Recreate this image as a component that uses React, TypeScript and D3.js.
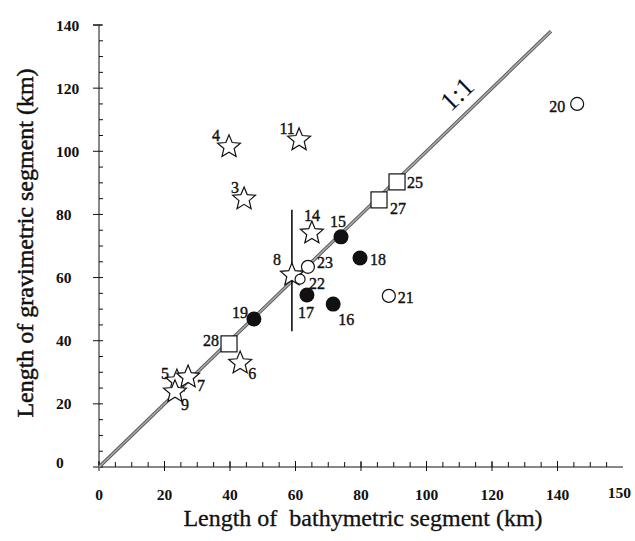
import React from "react";
import * as d3 from "d3";

const ids = [3, 4, 5, 6, 7, 8, 9, 11, 14, 15, 16, 17, 18, 19, 20, 21, 22, 23, 25, 27, 28];
const bathymetric = [44.3, 39.7, 23.8, 43.1, 27.2, 58.9, 23.2, 61.1, 65.0, 73.9, 71.5, 63.5, 79.7, 47.3, 146.0, 88.5, 61.4, 63.8, 91.0, 85.5, 39.7];
const gravimetric = [84.9, 101.4, 27.2, 32.9, 28.5, 60.8, 23.8, 103.6, 74.1, 72.9, 51.6, 54.5, 66.2, 46.9, 115.0, 54.2, 59.5, 63.4, 90.3, 84.6, 39.0];
const kinds = ["star", "star", "star", "star", "star", "star", "star", "star", "star", "filled", "filled", "filled", "filled", "filled", "open", "open", "openSmall", "open", "square", "square", "square"];

const xTicks = [0, 20, 40, 60, 80, 100, 120, 140];
const xEndLabel = "150";
const yTicks = [0, 20, 40, 60, 80, 100, 120, 140];
const errorBarX = 58.9;
const errorBarY = [43, 81.5];
const oneToOne = [0, 138];

// label offsets (px) relative to marker centre, by id
const labelOffsets: Record<number, [number, number]> = {
  3: [-9, -11], 4: [-13, -11], 5: [-12, -8], 6: [12, 10], 7: [13, 8], 8: [-15, -16], 9: [10, 13],
  11: [-12, -11], 14: [0, -18], 15: [-3, -15], 16: [13, 15], 17: [-1, 18], 18: [18, 2], 19: [-14, -6],
  20: [-20, 3], 21: [17, 2], 22: [17, 4], 23: [17, -4], 25: [18, 1], 27: [19, 9], 28: [-18, -3],
};

function starPath(R: number, r: number) {
  const pts: string[] = [];
  for (let i = 0; i < 10; i++) {
    const a = -Math.PI / 2 + (i * Math.PI) / 5;
    const rad = i % 2 === 0 ? R : r;
    pts.push(`${(rad * Math.cos(a)).toFixed(2)},${(rad * Math.sin(a)).toFixed(2)}`);
  }
  return "M" + pts.join("L") + "Z";
}

export default function App() {
  const W = 635, H = 541;
  const x = d3.scaleLinear().domain([0, 160]).range([99, 623]);
  const y = d3.scaleLinear().domain([0, 140]).range([467, 25]);
  const font = "'Liberation Serif', 'Times New Roman', serif";
  const star = starPath(12, 5.4);

  const yMinor = d3.range(0, 141, 5);
  const xMinor = d3.range(0, 156, 5);

  return (
    <svg width={W} height={H} style={{ position: "absolute", left: 0, top: 0, background: "#fff" }}>
      <rect width={W} height={H} fill="#fff" />
      {/* axes */}
      <line x1={x(0)} x2={x(0)} y1={y(0)} y2={y(140)} stroke="#111" strokeWidth={1} />
      <line x1={x(0) - 6} x2={x(0) + 3} y1={y(140)} y2={y(140)} stroke="#111" strokeWidth={1} />
      <line x1={x(0)} x2={x(160)} y1={y(0)} y2={y(0)} stroke="#111" strokeWidth={1} />
      {yMinor.map((v) => (
        <line key={"ym" + v} x1={x(0)} x2={x(0) + 4} y1={y(v)} y2={y(v)} stroke="#111" strokeWidth={1} />
      ))}
      {yTicks.map((v) => (
        <g key={"yt" + v}>
          <line x1={x(0) - 6} x2={x(0)} y1={y(v)} y2={y(v)} stroke="#111" strokeWidth={1} />
          <text x={56} y={y(v) - (v === 0 ? 5 : 0)} dominantBaseline="central" fontFamily={font} fontWeight="bold" fontSize={15.5} fill="#111">
            {v}
          </text>
        </g>
      ))}
      {xMinor.map((v) => (
        <line key={"xm" + v} x1={x(v)} x2={x(v)} y1={y(0)} y2={y(0) - 5} stroke="#111" strokeWidth={1} />
      ))}
      {xTicks.map((v) => (
        <g key={"xt" + v}>
          <line x1={x(v)} x2={x(v)} y1={y(0) - 6} y2={y(0) + 4} stroke="#111" strokeWidth={1} />
          <text x={x(v)} y={494} textAnchor="middle" dominantBaseline="central" fontFamily={font} fontWeight="bold" fontSize={15.5} fill="#111">
            {v}
          </text>
        </g>
      ))}
      <text x={631} y={492} textAnchor="end" dominantBaseline="central" fontFamily={font} fontWeight="bold" fontSize={15.5} fill="#111">
        {xEndLabel}
      </text>

      {/* axis titles */}
      <text x={363} y={526} textAnchor="middle" fontFamily={font} fontSize={24} fill="#111" stroke="#111" strokeWidth={0.3}>
        Length of {"\u00a0"}bathymetric segment (km)
      </text>
      <text transform="translate(25,243) rotate(-90)" textAnchor="middle" dominantBaseline="central" fontFamily={font} fontSize={24} fill="#111" stroke="#111" strokeWidth={0.5}>
        Length of gravimetric segment (km)
      </text>

      {/* 1:1 line */}
      <line x1={x(oneToOne[0])} y1={y(oneToOne[0])} x2={x(oneToOne[1])} y2={y(oneToOne[1])} stroke="#555" strokeWidth={3.4} />
      <line x1={x(oneToOne[0])} y1={y(oneToOne[0])} x2={x(oneToOne[1])} y2={y(oneToOne[1])} stroke="#aaa" strokeWidth={1.6} />
      <text transform="translate(457,94) rotate(-44)" textAnchor="middle" dominantBaseline="central" fontFamily={font} fontSize={27} fill="#111">
        1:1
      </text>

      {/* error bar */}
      <line x1={x(errorBarX)} x2={x(errorBarX)} y1={y(errorBarY[0])} y2={y(errorBarY[1])} stroke="#111" strokeWidth={1.6} />

      {/* markers */}
      {ids.map((id, i) => {
        const cx = x(bathymetric[i]);
        const cy = y(gravimetric[i]);
        const k = kinds[i];
        let mark;
        if (k === "star") mark = <path d={star} transform={`translate(${cx},${cy})`} fill="#fff" stroke="#111" strokeWidth={1.2} />;
        else if (k === "filled") mark = <circle cx={cx} cy={cy} r={7.5} fill="#111" />;
        else if (k === "open") mark = <circle cx={cx} cy={cy} r={6.5} fill="#fff" stroke="#111" strokeWidth={1.2} />;
        else if (k === "openSmall") mark = <circle cx={cx} cy={cy} r={5} fill="#fff" stroke="#111" strokeWidth={1.2} />;
        else mark = <rect x={cx - 8} y={cy - 8} width={16} height={16} fill="#fff" stroke="#111" strokeWidth={1.2} />;
        const [dx, dy] = labelOffsets[id];
        return (
          <g key={id}>
            {mark}
            <text x={cx + dx} y={cy + dy} textAnchor="middle" dominantBaseline="central" fontFamily={font} fontSize={16} fill="#111" stroke="#111" strokeWidth={0.4}>
              {id}
            </text>
          </g>
        );
      })}
    </svg>
  );
}
